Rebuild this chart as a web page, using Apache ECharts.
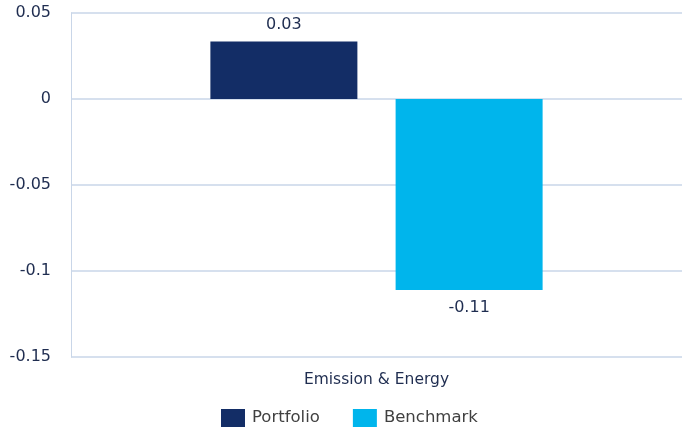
<!DOCTYPE html>
<html><head><meta charset="utf-8">
<script src="https://cdn.jsdelivr.net/npm/echarts@6/dist/echarts.min.js"></script>
<style>html,body{margin:0;padding:0;background:#fff}#c{width:682px;height:432px}</style>
</head><body><div id="c"></div>
<script>
const categories = ["Emission & Energy"];
const portfolio = [0.0335];
const benchmark = [-0.111];
const portfolioLabels = ["0.03"];
const benchmarkLabels = ["-0.11"];
const yTicks = [-0.15, -0.1, -0.05, 0, 0.05];

const chart = echarts.init(document.getElementById('c'));
const font = "DejaVu Sans";
chart.setOption({
  animation: false,
  textStyle: { fontFamily: font },
  grid: { left: 71, right: 0, top: 13, height: 344 },
  legend: {
    top: 404, left: 216, itemWidth: 24, itemHeight: 18, itemGap: 33, icon: 'rect',
    textStyle: { color: '#404040', fontSize: 16.5, fontFamily: font, padding: [0, 0, 0, 2] },
    data: ['Portfolio', 'Benchmark']
  },
  xAxis: {
    type: 'category', data: categories, position: 'bottom',
    axisLine: { show: false },
    axisTick: { show: true, length: 13, lineStyle: { color: '#C9D6E8' } },
    axisLabel: { color: '#1F2D50', fontSize: 15.5, margin: 15, fontFamily: font }
  },
  yAxis: {
    type: 'value', min: -0.15, max: 0.05, interval: 0.05,
    axisLine: { show: true, lineStyle: { color: '#C9D6E8' } },
    axisTick: { show: false },
    splitLine: { lineStyle: { color: '#C9D6E8', width: 1.5 } },
    axisLabel: {
      color: '#1F2D50', fontSize: 16, margin: 20, fontFamily: font,
      formatter: v => { const t = yTicks.find(x => Math.abs(x - v) < 1e-9); return t === undefined ? '' : String(t); }
    }
  },
  series: [
    { name: 'Portfolio', type: 'bar', data: portfolio, barWidth: 147, barGap: '26%',
      itemStyle: { color: '#132D66' },
      label: { show: true, position: 'top', distance: 9, color: '#1F2D50', fontSize: 16, fontFamily: font,
        formatter: p => portfolioLabels[p.dataIndex] } },
    { name: 'Benchmark', type: 'bar', data: benchmark, barWidth: 147,
      itemStyle: { color: '#00B5EC' },
      label: { show: true, position: 'bottom', distance: 10, color: '#1F2D50', fontSize: 16, fontFamily: font,
        formatter: p => benchmarkLabels[p.dataIndex] } }
  ]
});
</script></body></html>
